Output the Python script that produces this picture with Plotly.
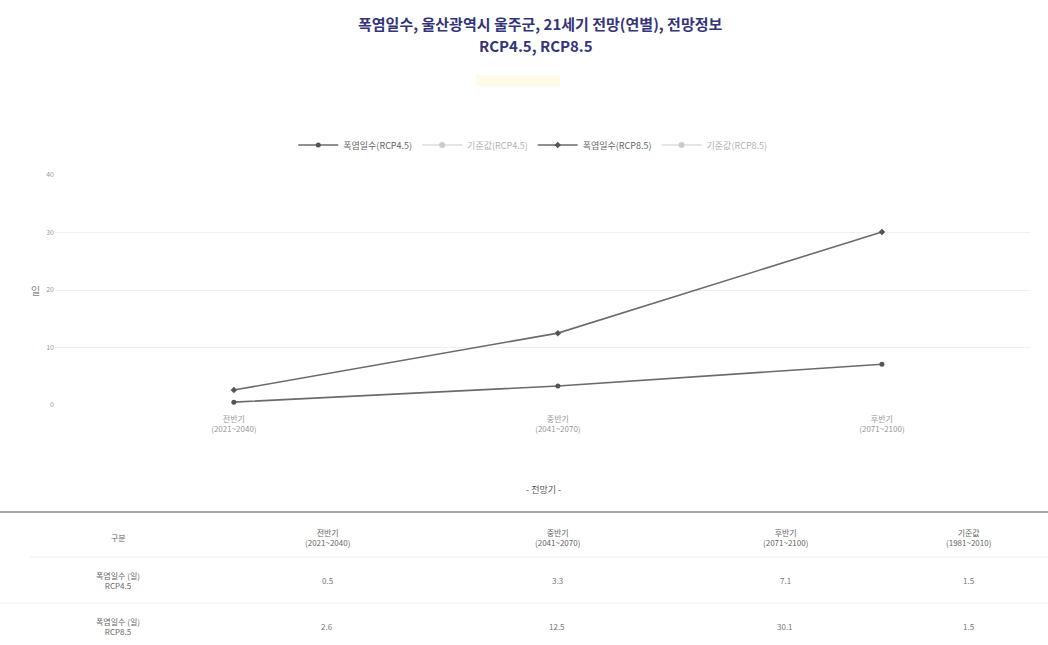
import plotly.graph_objects as go

# 폭염일수 전망 (울산광역시 울주군)
periods = ["전반기<br>(2021~2040)", "중반기<br>(2041~2070)", "후반기<br>(2071~2100)"]
rcp45 = [0.5, 3.3, 7.1]
rcp85 = [2.6, 12.5, 30.1]
baseline = [1.5, 1.5]  # 기준값 (1981~2010): RCP4.5, RCP8.5
y_ticks = [0, 10, 20, 30, 40]
table_header = ["구분", "전반기<br>(2021~2040)", "중반기<br>(2041~2070)",
                "후반기<br>(2071~2100)", "기준값<br>(1981~2010)"]
row_labels = ["폭염일수 (일)<br>RCP4.5", "폭염일수 (일)<br>RCP8.5"]

FONT = "Noto Sans CJK KR, Noto Sans, sans-serif"
W, H = 1048, 645
L, R, T, B = 55, 18, 175, 240
PW, PH = W - L - R, H - T - B


def px(xp):
    return (xp - L) / PW


def py(yp):
    return (H - B - yp) / PH


def label(x, y, text, size=8, color="#666", bold=False):
    return dict(x=px(x), y=py(y), xref="paper", yref="paper", text=f"<b>{text}</b>" if bold else text,
                showarrow=False, xanchor="center", yanchor="middle",
                font=dict(size=size, color=color))


xs = list(range(len(periods)))
fig = go.Figure()
line_col = "#6b6b6b"
fig.add_trace(go.Scatter(x=xs, y=rcp45, name="폭염일수(RCP4.5)", mode="lines+markers",
                         line=dict(color=line_col, width=1.6),
                         marker=dict(size=5, color="#555")))
fig.add_trace(go.Scatter(x=xs, y=[baseline[0]] * 3, name="기준값(RCP4.5)", mode="lines+markers",
                         visible="legendonly", line=dict(color="#999", width=1)))
fig.add_trace(go.Scatter(x=xs, y=rcp85, name="폭염일수(RCP8.5)", mode="lines+markers",
                         line=dict(color=line_col, width=1.6),
                         marker=dict(size=5, symbol="diamond", color="#555")))
fig.add_trace(go.Scatter(x=xs, y=[baseline[1]] * 3, name="기준값(RCP8.5)", mode="lines+markers",
                         visible="legendonly", line=dict(color="#999", width=1)))

ann = []
# 제목
ann.append(label(540, 23, "폭염일수, 울산광역시 울주군, 21세기 전망(연별), 전망정보", 15, "#34347a", True))
ann.append(label(536, 46, "RCP4.5, RCP8.5", 15, "#34347a", True))
# y축 단위
ann.append(label(35, 290, "일", 10, "#888"))
# x축 제목
ann.append(label(543, 490, "- 전망기 -", 9, "#555"))

# 표
col_x = [118, 327, 557, 785, 968]
for cx, h in zip(col_x, table_header):
    ann.append(label(cx, 537, h, 8, "#666"))
rows = [rcp45 + [baseline[0]], rcp85 + [baseline[1]]]
row_y = [580, 626]
for ry, lab, vals in zip(row_y, row_labels, rows):
    ann.append(label(col_x[0], ry, lab, 8, "#666"))
    for cx, v in zip(col_x[1:], vals):
        ann.append(label(cx, ry, f"{v:.1f}", 8, "#777"))

shapes = [
    dict(type="line", xref="paper", yref="paper", x0=px(0), x1=px(W), y0=py(512), y1=py(512),
         line=dict(color="#8a8a8a", width=1.5)),
    dict(type="line", xref="paper", yref="paper", x0=px(30), x1=px(W), y0=py(557), y1=py(557),
         line=dict(color="#eeeeee", width=1)),
    dict(type="line", xref="paper", yref="paper", x0=px(0), x1=px(W), y0=py(603), y1=py(603),
         line=dict(color="#eeeeee", width=1)),
    dict(type="rect", xref="paper", yref="paper", x0=px(476), x1=px(560), y0=py(75), y1=py(87),
         fillcolor="#fffbe8", line=dict(width=0)),
]

fig.update_layout(
    width=W, height=H,
    margin=dict(l=L, r=R, t=T, b=B),
    paper_bgcolor="white", plot_bgcolor="white",
    font=dict(family=FONT, size=9, color="#777"),
    legend=dict(orientation="h", x=0.49, xanchor="center", y=py(145), yanchor="middle",
                font=dict(size=9, color="#666"), itemwidth=40),
    xaxis=dict(tickmode="array", tickvals=xs, ticktext=periods, range=[-0.552, 2.457],
               showgrid=False, zeroline=False, showline=False, ticklabelstandoff=8,
               tickfont=dict(size=8, color="#999")),
    yaxis=dict(tickmode="array", tickvals=y_ticks, range=[0, 40], showgrid=True,
               gridcolor="#f0f0f0", zeroline=False, showline=False,
               tickfont=dict(size=7, color="#999")),
    annotations=ann,
    shapes=shapes,
    showlegend=True,
)

fig.write_html("out.html")
